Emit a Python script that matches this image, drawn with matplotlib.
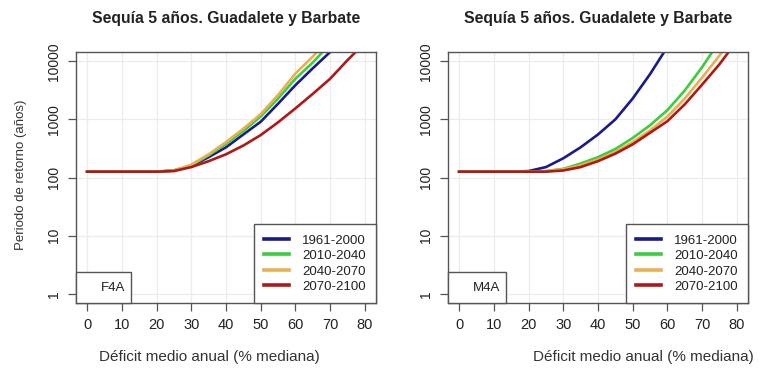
import numpy as np
import matplotlib
matplotlib.use("Agg")
import matplotlib.pyplot as plt
from matplotlib.patches import Rectangle

plt.rcParams['font.family'] = ['Liberation Sans', 'DejaVu Sans']

# deficit (% of median) on the x axis
deficit = [0, 5, 10, 15, 20, 25, 30, 35, 40, 45, 50, 55, 60, 65, 70, 75, 80]
periods = ["1961-2000", "2010-2040", "2040-2070", "2070-2100"]
colors = ["#1a1a8c", "#3ccc3c", "#e8b050", "#b01818"]
nan = np.nan

# return period (years), panel F4A
f4a_1961 = [126, 126, 126, 126, 126, 132, 158, 224, 331, 550, 912, 1862, 3890, 7586, 14454, 28000, nan]
f4a_2010 = [126, 126, 126, 126, 126, 132, 162, 240, 380, 631, 1122, 2291, 5012, 9550, 19953, nan, nan]
f4a_2040 = [126, 126, 126, 126, 126, 132, 166, 251, 407, 692, 1230, 2630, 6166, 12023, 26303, nan, nan]
f4a_2070 = [126, 126, 126, 126, 126, 129, 151, 191, 251, 355, 537, 891, 1549, 2754, 5012, 10471, 20893]

# return period (years), panel M4A
m4a_1961 = [126, 126, 126, 126, 129, 151, 214, 331, 550, 1000, 2291, 6026, 17783, nan, nan, nan, nan]
m4a_2010 = [126, 126, 126, 126, 126, 129, 141, 174, 224, 309, 479, 794, 1445, 3162, 7943, 22387, nan]
m4a_2040 = [126, 126, 126, 126, 126, 129, 138, 162, 204, 275, 407, 646, 1122, 2291, 5248, 12589, 31623]
m4a_2070 = [126, 126, 126, 126, 126, 126, 132, 151, 191, 257, 372, 589, 933, 1820, 3981, 8913, 22387]

panels = [
    ("F4A", [f4a_1961, f4a_2010, f4a_2040, f4a_2070]),
    ("M4A", [m4a_1961, m4a_2010, m4a_2040, m4a_2070]),
]

W, H = 764, 372
fig = plt.figure(figsize=(W / 100, H / 100), dpi=100)

ax_lefts = [76, 448]
xlabel_centers = [209, 643]
grey = "#555555"
txt = "#222222"

for i, (tag, series) in enumerate(panels):
    ax = fig.add_axes([ax_lefts[i] / W, 1 - 303 / H, 300 / W, 251 / H])
    ax.set_yscale("log")
    ax.set_xlim(-3.2, 83.2)
    ax.set_ylim(10 ** -0.16, 10 ** 4.16)

    for x in range(0, 81, 10):
        ax.axvline(x, color="#ececec", lw=0.9, zorder=0)
    for y in [1, 10, 100, 1000, 10000]:
        ax.axhline(y, color="#ececec", lw=0.9, zorder=0)

    for vals, lab, c in zip(series, periods, colors):
        ax.plot(deficit, vals, color=c, lw=1.9, label=lab, zorder=2)

    ax.set_xticks(range(0, 81, 10))
    ax.set_xticklabels([str(v) for v in range(0, 81, 10)], fontsize=10.5, color=txt)
    ax.set_yticks([1, 10, 100, 1000, 10000])
    ax.set_yticklabels(["1", "10", "100", "1000", "10000"], fontsize=10,
                       rotation=90, va="center", color=txt)
    ax.minorticks_off()
    ax.tick_params(axis="both", direction="out", length=6, width=0.9, color=grey, pad=5)
    for s in ax.spines.values():
        s.set_color(grey)
        s.set_linewidth(1.0)

    leg = ax.legend(loc="lower right", borderaxespad=0, fancybox=False, framealpha=1,
                    edgecolor=grey, fontsize=9.5, handlelength=1.9, handletextpad=1.0,
                    labelspacing=0.25, borderpad=0.75, labelcolor=txt)
    leg.get_frame().set_linewidth(1.0)
    for h in leg.legend_handles:
        h.set_linewidth(2.6)

    bw = 0.183 if i == 0 else 0.193
    ax.add_patch(Rectangle((0, 0), bw, 0.1235, transform=ax.transAxes, facecolor="white",
                           edgecolor=grey, lw=1.0, zorder=5, clip_on=False))
    ax.text(bw - 0.02, 0.06, tag, transform=ax.transAxes, ha="right", va="center",
            fontsize=9.5, color=txt, zorder=6)

    fig.text((ax_lefts[i] + 150) / W, 1 - 19 / H, "Sequía 5 años. Guadalete y Barbate",
             ha="center", va="center", fontsize=11.3, fontweight="bold", color=txt)
    fig.text(xlabel_centers[i] / W, 1 - 357 / H, "Déficit medio anual (% mediana)",
             ha="center", va="center", fontsize=11, color="#333333")

fig.text(21 / W, 1 - 175 / H, "Periodo de retorno (años)", rotation=90,
         ha="center", va="center", fontsize=9.5, color="#333333")

fig.savefig("out.png", dpi=100)
